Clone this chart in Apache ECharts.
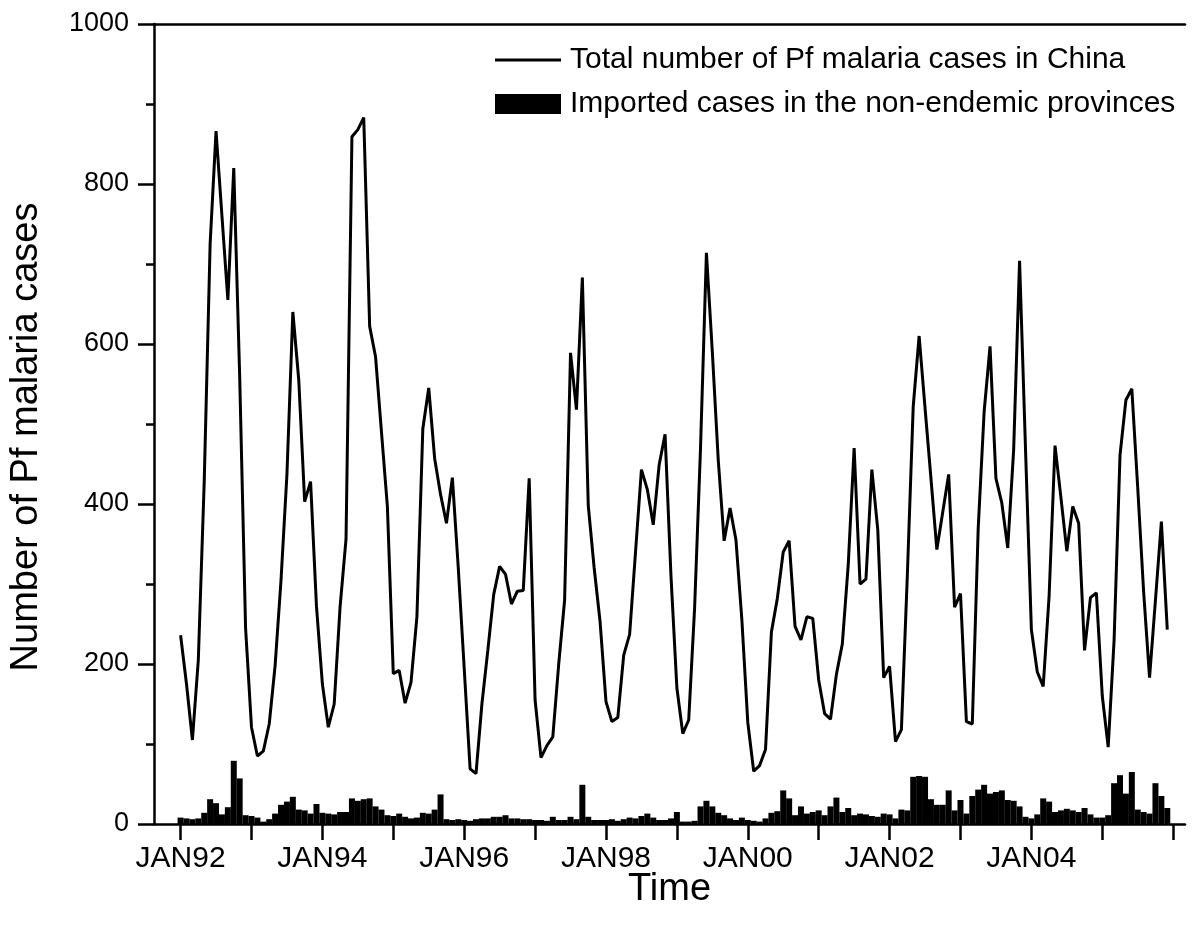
<!DOCTYPE html>
<html>
<head>
<meta charset="utf-8">
<script src="https://cdn.jsdelivr.net/npm/echarts@6/dist/echarts.min.js"></script>
<style>
  html, body { margin: 0; padding: 0; background: #fff; }
  #chart { width: 1200px; height: 927px; }
</style>
</head>
<body>
<div id="chart"></div>
<script>
// Month index 0 = JAN92 ... 167 = DEC05
const tickLabels = ['JAN92', 'JAN94', 'JAN96', 'JAN98', 'JAN00', 'JAN02', 'JAN04'];

const lineName = 'Total number of Pf malaria cases in China';
const barName = 'Imported cases in the non-endemic provinces';

// Total number of Pf malaria cases (monthly, JAN92-DEC05)
const totalCases = [
  236, 175, 105, 205, 428, 725, 866, 760, 655, 820, 560, 245,  // 1992
  121, 85, 91, 125, 198, 305, 437, 640, 555, 403, 428, 272,    // 1993
  175, 121, 150, 272, 356, 859, 868, 883, 622, 584, 490, 397,  // 1994
  188, 192, 151, 177, 259, 494, 545, 457, 412, 376, 433, 320,  // 1995
  195, 69, 63, 150, 217, 287, 322, 312, 275, 291, 292, 432,    // 1996
  155, 83, 98, 109, 200, 280, 589, 518, 683, 398, 320, 253,    // 1997
  153, 128, 133, 211, 237, 340, 443, 418, 374, 449, 487, 310,  // 1998
  170, 113, 130, 270, 470, 714, 590, 455, 354, 395, 355, 255,  // 1999
  127, 66, 73, 93, 240, 282, 340, 354, 247, 230, 259, 257,     // 2000
  180, 138, 131, 187, 225, 324, 470, 300, 306, 443, 368, 183,  // 2001
  197, 103, 118, 310, 522, 610, 520, 432, 343, 390, 437, 271,  // 2002
  288, 128, 125, 370, 515, 597, 432, 401, 345, 468, 704, 470,  // 2003
  243, 190, 172, 285, 473, 408, 341, 397, 376, 217, 283, 289,  // 2004
  160, 96, 230, 461, 530, 544, 420, 290, 183, 280, 378, 243    // 2005
];

// Imported cases in the non-endemic provinces (monthly)
const importedCases = [
  8, 7, 6, 7, 14, 31, 26, 12, 21, 79, 57, 11,     // 1992
  10, 8, 3, 6, 13, 24, 28, 34, 18, 17, 13, 25,    // 1993
  14, 13, 12, 15, 15, 32, 29, 31, 32, 22, 18, 11, // 1994
  10, 13, 9, 7, 8, 14, 13, 18, 37, 6, 5, 6,       // 1995
  5, 4, 6, 7, 7, 9, 9, 11, 7, 7, 6, 6,            // 1996
  5, 5, 4, 9, 5, 5, 9, 6, 49, 9, 5, 5,            // 1997
  5, 6, 4, 6, 8, 7, 10, 13, 8, 5, 5, 7,           // 1998
  15, 3, 3, 4, 22, 29, 22, 14, 11, 7, 5, 8,       // 1999
  5, 4, 3, 7, 14, 16, 42, 32, 11, 22, 13, 15,     // 2000
  17, 11, 22, 33, 15, 20, 11, 13, 12, 10, 9, 13,  // 2001
  12, 7, 18, 17, 59, 60, 59, 31, 24, 24, 42, 17,  // 2002
  30, 13, 35, 43, 49, 38, 40, 42, 30, 29, 22, 9,  // 2003
  7, 12, 32, 28, 15, 17, 19, 17, 15, 20, 12, 8,   // 2004
  8, 11, 51, 61, 38, 65, 18, 15, 13, 51, 35, 20   // 2005
];

const labelPos = tickLabels.map((_, k) => k * 24);
const tickPos = [];
for (let m = 0; m <= totalCases.length; m += 12) tickPos.push(m);

const FONT = "'Liberation Sans', Arial, sans-serif";
const axisLineStyle = { color: '#000', width: 2.5 };

const chart = echarts.init(document.getElementById('chart'), null, { renderer: 'canvas' });
chart.setOption({
  backgroundColor: '#fff',
  animation: false,
  grid: { left: 153, right: 15, top: 24, bottom: 103 },
  legend: {
    orient: 'vertical',
    left: 490,
    top: 40,
    itemWidth: 66,
    itemHeight: 20,
    itemGap: 14,
    textStyle: { fontSize: 30, fontFamily: FONT, color: '#000', padding: [0, 0, 0, 4] },
    data: [
      { name: lineName, icon: 'path://M0,0 L66,0 L66,3 L0,3 Z' },
      { name: barName, icon: 'rect' }
    ]
  },
  xAxis: [{
    type: 'value',
    min: -4.5,
    max: 170,
    name: 'Time',
    nameLocation: 'middle',
    nameGap: 47,
    nameMoveOverlap: false,
    nameTextStyle: { fontSize: 38, fontFamily: FONT, color: '#000' },
    axisLine: { show: true, onZero: false, lineStyle: axisLineStyle },
    axisTick: { show: true, length: 16, customValues: tickPos, lineStyle: axisLineStyle },
    axisLabel: {
      fontSize: 30, fontFamily: FONT, color: '#000', margin: 20,
      customValues: labelPos,
      formatter: v => tickLabels[Math.round(v / 24)]
    },
    splitLine: { show: false }
  }, {
    type: 'value',
    position: 'top',
    min: -4.5,
    max: 170,
    axisLine: { show: true, onZero: false, lineStyle: axisLineStyle },
    axisTick: { show: false },
    axisLabel: { show: false },
    splitLine: { show: false }
  }],
  yAxis: {
    type: 'value',
    min: 0,
    max: 1000,
    interval: 200,
    name: 'Number of Pf malaria cases',
    nameLocation: 'middle',
    nameRotate: 90,
    nameGap: 108,
    nameMoveOverlap: false,
    nameTextStyle: { fontSize: 38, fontFamily: FONT, color: '#000', padding: [0, 26, 0, 0] },
    axisLine: { show: true, onZero: false, lineStyle: axisLineStyle },
    axisTick: { show: true, length: 16, lineStyle: axisLineStyle },
    minorTick: { show: true, splitNumber: 2, length: 8, lineStyle: { color: '#000', width: 2.5 } },
    axisLabel: { fontSize: 27, fontFamily: FONT, color: '#000', margin: 25, formatter: v => String(v) },
    splitLine: { show: false }
  },
  series: [{
    name: barName,
    type: 'bar',
    xAxisIndex: 0,
    barWidth: 6,
    itemStyle: { color: '#000' },
    data: importedCases.map((v, i) => [i, v])
  }, {
    name: lineName,
    type: 'line',
    xAxisIndex: 0,
    symbol: 'none',
    lineStyle: { color: '#000', width: 3 },
    itemStyle: { color: '#000' },
    data: totalCases.map((v, i) => [i, v])
  }]
});
</script>
</body>
</html>
